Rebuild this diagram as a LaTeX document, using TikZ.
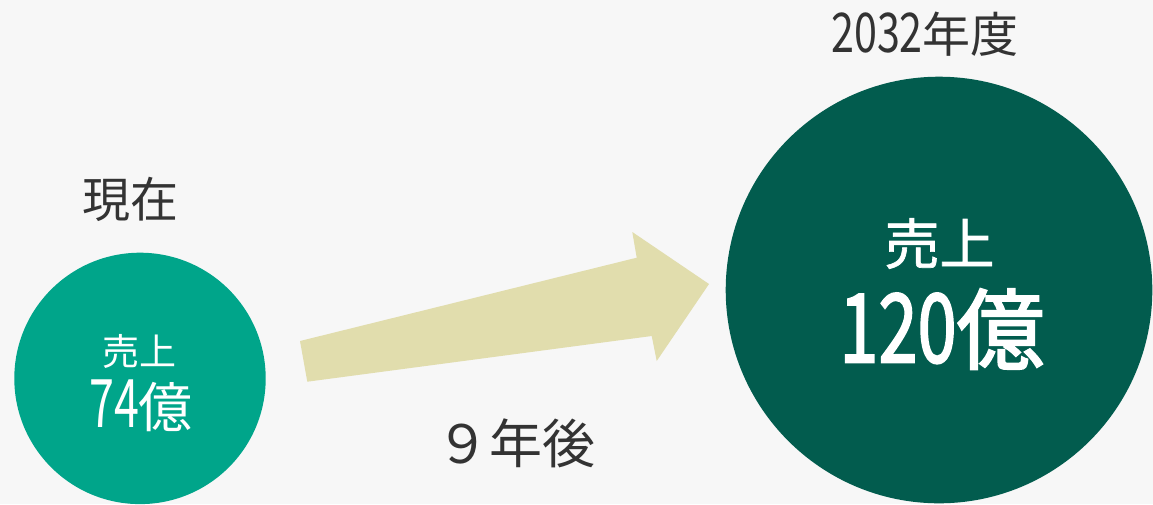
\documentclass[tikz,border=0pt]{standalone}
\usepackage{fontspec}
\setmainfont{Noto Sans CJK JP}
\newfontfamily\medfont[FakeBold=1.2]{Noto Sans CJK JP}
\newfontfamily\heavyfont[FakeBold=2.2]{Noto Sans CJK JP}
\usepackage{graphicx}
\definecolor{bgc}{HTML}{F7F7F7}
\definecolor{smallc}{HTML}{00A58A}
\definecolor{bigc}{HTML}{025C4E}
\definecolor{arrowc}{HTML}{E1DDAD}
\definecolor{txtc}{HTML}{333333}
\newcommand{\cdig}[3]{\scalebox{#1}[#2]{#3}}
\tikzset{
  disc/.style={circle, inner sep=0pt, draw=none},
  lbl/.style={inner sep=0pt, text=txtc},
  wlbl/.style={inner sep=0pt, text=white},
}
\begin{document}
\begin{tikzpicture}[x=1pt,y=-1pt]
\fill[bgc] (0,0) rectangle (1153,504);
\useasboundingbox (0,0) rectangle (1153,504);
% circles
\node[disc, fill=smallc, minimum size=251.4pt] (now) at (140,378.4) {};
\node[disc, fill=bigc, minimum size=426.6pt] (future) at (939,290) {};
% arrow
\fill[arrowc] (300,341) -- (636.7,257.7) -- (632.3,232) -- (709,284) -- (656.7,361) -- (651.7,336) -- (307.3,381.7) -- cycle;
% labels
\node[lbl, font=\fontsize{48}{48}\selectfont] (nowlbl) at (130,199) {現在};
\node[lbl, font=\fontsize{48}{48}\selectfont] (yearlbl) at (925,34) {\cdig{0.86}{1.14}{2032}年度};
\node[lbl, font=\fontsize{53}{53}\selectfont] (gap) at (516,443) {９年後};
\node[wlbl, font=\fontsize{37}{37}\selectfont] (nows) at (139,351) {売上};
\node[wlbl, font=\fontsize{54}{54}\selectfont] (nowv) at (141,406) {\cdig{0.83}{1.24}{74}億};
\node[wlbl, font=\medfont\fontsize{55}{55}\selectfont] (futs) at (939.5,243.5) {売上};
\node[wlbl, font=\heavyfont\fontsize{88}{88}\selectfont] (futv) at (942,329) {\cdig{0.8}{1.085}{120}億};
\end{tikzpicture}
\end{document}
